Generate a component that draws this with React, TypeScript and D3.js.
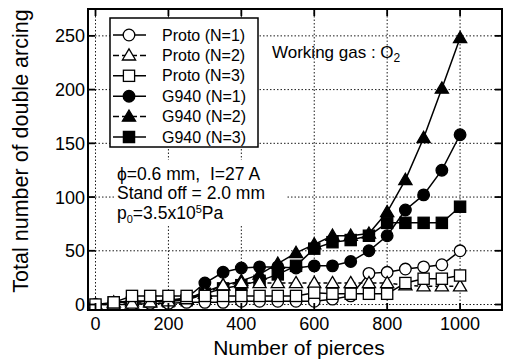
import React from 'react';
import * as d3 from 'd3';

const W = 506;
const H = 364;

const xs = [0, 50, 100, 150, 200, 250, 300, 350, 400, 450, 500, 550, 600, 650, 700, 750, 800, 850, 900, 950, 1000];
const xsG = xs.slice(1);

const protoN1 = [0, 0, 0, 1, 1, 2, 2, 2, 3, 3, 3, 3, 3, 5, 8, 29, 30, 33, 35, 37, 50];
const protoN2 = [0, 0, 1, 2, 3, 5, 10, 18, 20, 20, 20, 20, 20, 20, 20, 20, 20, 18, 17, 17, 17];
const protoN3 = [0, 2, 8, 8, 8, 8, 8, 8, 8, 8, 8, 8, 11, 10, 10, 10, 10, 20, 24, 24, 27];
const g940N1 = [2, 3, 3, 4, 6, 20, 30, 34, 35, 35, 34, 36, 36, 40, 50, 64, 88, 102, 125, 158];
const g940N2 = [2, 3, 3, 4, 5, 12, 18, 22, 28, 38, 48, 56, 64, 64, 66, 86, 116, 155, 201, 248];
const g940N3 = [2, 2, 3, 3, 4, 10, 15, 18, 22, 28, 36, 52, 58, 60, 64, 76, 76, 76, 76, 91];

const xTicks = [0, 200, 400, 600, 800, 1000];
const yTicks = [0, 50, 100, 150, 200, 250];

type Shape = 'circle' | 'triangle' | 'square';
interface Series {
  name: string;
  x: number[];
  y: number[];
  shape: Shape;
  filled: boolean;
  dashed: boolean;
}

const series: Series[] = [
  { name: 'Proto (N=1)', x: xs, y: protoN1, shape: 'circle', filled: false, dashed: false },
  { name: 'Proto (N=2)', x: xs, y: protoN2, shape: 'triangle', filled: false, dashed: true },
  { name: 'Proto (N=3)', x: xs, y: protoN3, shape: 'square', filled: false, dashed: false },
  { name: 'G940 (N=1)', x: xsG, y: g940N1, shape: 'circle', filled: true, dashed: false },
  { name: 'G940 (N=2)', x: xsG, y: g940N2, shape: 'triangle', filled: true, dashed: false },
  { name: 'G940 (N=3)', x: xsG, y: g940N3, shape: 'square', filled: true, dashed: false },
];

const font = '"Liberation Sans", Arial, Helvetica, sans-serif';

function Marker({ shape, filled, cx, cy }: { shape: Shape; filled: boolean; cx: number; cy: number }) {
  const fill = filled ? '#000' : '#fff';
  const common = { fill, stroke: '#000', strokeWidth: 1.3 };
  if (shape === 'circle') return <circle cx={cx} cy={cy} r={5.8} {...common} />;
  if (shape === 'square') return <rect x={cx - 5.6} y={cy - 5.6} width={11.2} height={11.2} {...common} />;
  const s = 6.6;
  return <path d={`M${cx},${cy - s}L${cx + s},${cy + s * 0.7}L${cx - s},${cy + s * 0.7}Z`} {...common} />;
}

export default function App() {
  const left = 88, right = 502, top = 9, bottom = 310;
  const x = d3.scaleLinear().domain([-20.6, 1115]).range([left, right]);
  const y = d3.scaleLinear().domain([-5.1, 275]).range([bottom, top]);

  const line = (s: Series) =>
    d3.line<number>().x((_, i) => x(s.x[i])).y(v => y(v))(s.y) || '';

  const drawOrder = [3, 4, 5, 0, 1, 2];

  return (
    <svg width={W} height={H} style={{ position: 'absolute', left: 0, top: 0, background: '#fff' }} fontFamily={font}>
      <rect width={W} height={H} fill="#fff" />
      {/* grid */}
      {xTicks.map(t => (
        <line key={'gx' + t} x1={x(t)} x2={x(t)} y1={top} y2={bottom} stroke="#000" strokeWidth={0.9} strokeDasharray="1.5,2" />
      ))}
      {yTicks.map(t => (
        <line key={'gy' + t} x1={left} x2={right} y1={y(t)} y2={y(t)} stroke="#000" strokeWidth={0.9} strokeDasharray="1.5,2" />
      ))}
      {/* annotation background */}
      <rect x={114} y={160} width={172} height={64} fill="#fff" />
      {/* series lines */}
      {drawOrder.map(i => {
        const s = series[i];
        return (
          <path key={'l' + i} d={line(s)} fill="none" stroke="#000" strokeWidth={1.5}
            strokeDasharray={s.dashed ? '4,3' : undefined} />
        );
      })}
      {drawOrder.map(i => {
        const s = series[i];
        return (
          <g key={'m' + i}>
            {s.y.map((v, j) => (
              <Marker key={j} shape={s.shape} filled={s.filled} cx={x(s.x[j])} cy={y(v)} />
            ))}
          </g>
        );
      })}
      {/* frame */}
      <rect x={left} y={top} width={right - left} height={bottom - top} fill="none" stroke="#000" strokeWidth={2} />
      {/* ticks */}
      {xTicks.map(t => (
        <g key={'tx' + t}>
          <line x1={x(t)} x2={x(t)} y1={bottom} y2={bottom - 7} stroke="#000" strokeWidth={1.8} />
          <line x1={x(t)} x2={x(t)} y1={top} y2={top + 7} stroke="#000" strokeWidth={1.8} />
          <text x={x(t)} y={bottom + 20} textAnchor="middle" fontSize={18}>{t}</text>
        </g>
      ))}
      {yTicks.map(t => (
        <g key={'ty' + t}>
          <line x1={left} x2={left + 7} y1={y(t)} y2={y(t)} stroke="#000" strokeWidth={1.8} />
          <line x1={right} x2={right - 7} y1={y(t)} y2={y(t)} stroke="#000" strokeWidth={1.8} />
          <text x={left - 3} y={y(t) + 6.5} textAnchor="end" fontSize={18}>{t}</text>
        </g>
      ))}
      {/* legend */}
      <rect x={110} y={18} width={148} height={129} fill="#fff" stroke="#000" strokeWidth={1.5} />
      {series.map((s, i) => {
        const ly = 35 + i * 20.4;
        return (
          <g key={'lg' + i}>
            <line x1={113} x2={146} y1={ly} y2={ly} stroke="#000" strokeWidth={1.5}
              strokeDasharray={s.shape === 'triangle' ? '6,3' : undefined} />
            <Marker shape={s.shape} filled={s.filled} cx={129} cy={ly} />
            <text x={162} y={ly + 5.5} fontSize={16}>{s.name}</text>
          </g>
        );
      })}
      {/* annotations */}
      <text x={272} y={58} fontSize={17}>Working gas : O<tspan fontSize={12} dy={4}>2</tspan></text>
      <text x={117} y={180} fontSize={17.5} xmlSpace="preserve">{'ϕ=0.6 mm,\u00a0\u00a0I=27 A'}</text>
      <text x={117} y={199} fontSize={17.5}>Stand off = 2.0 mm</text>
      <text x={117} y={219} fontSize={17.5}>p<tspan fontSize={11} dy={4}>0</tspan><tspan dy={-4}>=3.5x10</tspan><tspan fontSize={11} dy={-6}>5</tspan><tspan dy={6}>Pa</tspan></text>
      {/* axis titles */}
      <text x={299} y={355} textAnchor="middle" fontSize={21}>Number of pierces</text>
      <text transform="translate(28,151) rotate(-90)" textAnchor="middle" fontSize={21.5}>Total number of double arcing</text>
    </svg>
  );
}
